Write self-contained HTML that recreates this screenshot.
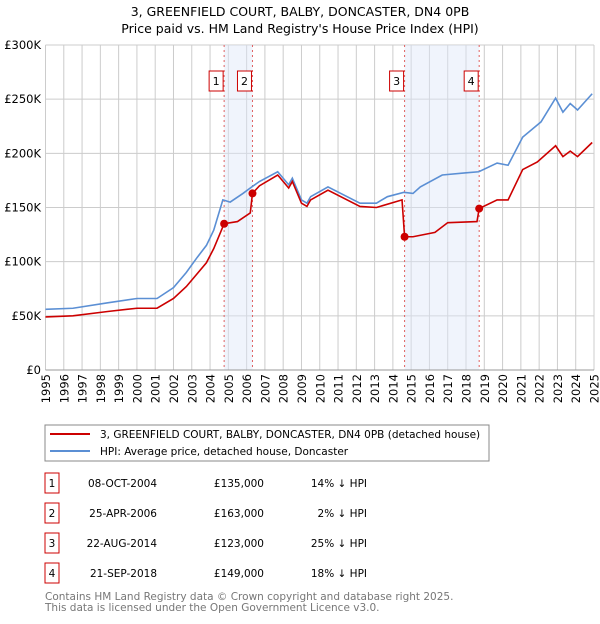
<!DOCTYPE html>
<html><head><meta charset="utf-8"><style>
body{margin:0;background:#fff;font-family:"DejaVu Sans","Liberation Sans",sans-serif;}
svg text{font-family:"DejaVu Sans","Liberation Sans",sans-serif;}
</style></head><body>
<svg id="chart" width="600" height="620" xmlns="http://www.w3.org/2000/svg">
<text x="300" y="16" text-anchor="middle" font-size="12.5">3, GREENFIELD COURT, BALBY, DONCASTER, DN4 0PB</text>
<text x="300" y="33" text-anchor="middle" font-size="12.5">Price paid vs. HM Land Registry's House Price Index (HPI)</text>
<g id="grid"></g>
<g id="bands"></g>
<g id="series"></g>
<g id="axes"></g>
<g>
<rect x="45" y="425" width="444" height="36" fill="#fff" stroke="#888"/>
<line x1="50" y1="434" x2="90" y2="434" stroke="#cc0000" stroke-width="2"/>
<text x="100" y="438" font-size="10.5">3, GREENFIELD COURT, BALBY, DONCASTER, DN4 0PB (detached house)</text>
<line x1="50" y1="451" x2="90" y2="451" stroke="#5b8fd4" stroke-width="2"/>
<text x="100" y="455" font-size="10.5">HPI: Average price, detached house, Doncaster</text>
</g>
<g id="table"></g>
<text x="45" y="600" font-size="10.5" fill="#777">Contains HM Land Registry data © Crown copyright and database right 2025.</text>
<text x="45" y="611" font-size="10.5" fill="#777">This data is licensed under the Open Government Licence v3.0.</text>
</svg>
<script>
const hpiYears=[1995,1996.5,1998.4,2000,2001.1,2002,2002.7,2003.3,2003.8,2004.2,2004.7,2005.1,2005.8,2006.2,2006.7,2007.7,2008.3,2008.5,2009.0,2009.3,2009.5,2010.45,2012.2,2013.1,2013.7,2014.6,2015.1,2015.5,2016.7,2018.0,2018.7,2019.7,2020.3,2021.1,2022.1,2022.9,2023.3,2023.7,2024.1,2024.9];
const hpiValues=[56,57,62,66,66,76,90,104,115,129,157,155,163,168,174,183,171,177,157,154,160,169,154,154,160,164,163,169,180,182,183,191,189,215,229,251,238,246,240,255];
const priceYears=[1995,1996.5,1998.4,2000,2001.1,2002,2002.7,2003.3,2003.8,2004.2,2004.77,2005.5,2006.2,2006.32,2006.7,2007.7,2008.3,2008.5,2009.0,2009.3,2009.5,2010.45,2012.2,2013.1,2014.5,2014.64,2015.1,2016.3,2017.0,2018.6,2018.72,2019.7,2020.3,2021.1,2021.9,2022.9,2023.3,2023.7,2024.1,2024.9];
const priceValues=[49,50,54,57,57,66,77,89,99,112,135,137,145,163,170,180,168,174,154,151,157,166,151,150,157,123,123,127,136,137,149,157,157,185,192,207,197,202,197,210];
const saleLabels=["1","2","3","4"];
const saleYears=[2004.77,2006.32,2014.64,2018.72];
const salePrices=[135,163,123,149];
const saleDates=["08-OCT-2004","25-APR-2006","22-AUG-2014","21-SEP-2018"];
const salePriceText=["£135,000","£163,000","£123,000","£149,000"];
const saleHpiText=["14% ↓ HPI","2% ↓ HPI","25% ↓ HPI","18% ↓ HPI"];
const yTicks=[0,50,100,150,200,250,300];
const yTickLabels=["£0","£50K","£100K","£150K","£200K","£250K","£300K"];
const xTicks=[1995,1996,1997,1998,1999,2000,2001,2002,2003,2004,2005,2006,2007,2008,2009,2010,2011,2012,2013,2014,2015,2016,2017,2018,2019,2020,2021,2022,2023,2024,2025];

const NS="http://www.w3.org/2000/svg";
const X0=45.5,X1=594,Y0=370,Y1=45;
const xs=y=>X0+(y-1995)*(X1-X0)/30;
const ys=v=>Y0-v*(Y0-Y1)/300;
function mk(tag,attrs,parent){const e=document.createElementNS(NS,tag);for(const k in attrs)e.setAttribute(k,attrs[k]);parent.appendChild(e);return e;}
const grid=document.getElementById('grid'),bands=document.getElementById('bands'),series=document.getElementById('series'),axes=document.getElementById('axes'),table=document.getElementById('table');
yTicks.forEach((t,i)=>{
  const l=mk('line',{x1:X0,x2:X1,y1:ys(t),y2:ys(t),stroke:'#cccccc'},grid);
  
  
  const tx=mk('text',{x:41,y:ys(t)+4,'text-anchor':'end','font-size':'11.5'},axes);
  tx.textContent=yTickLabels[i];
  
  
});
xTicks.forEach(t=>{
  const l=mk('line',{x1:xs(t),x2:xs(t),y1:Y1,y2:Y0,stroke:'#cccccc'},grid);
  
  
  const x=xs(t)+4.5;
  const tx=mk('text',{x:x,y:374,'text-anchor':'end','font-size':'11.5',transform:'rotate(-90 '+x+' 374)'},axes);
  tx.textContent=t;
  
  
});
[[0,1],[2,3]].forEach(p=>{
  const r=mk('rect',{x:xs(saleYears[p[0]]),y:Y1,width:xs(saleYears[p[1]])-xs(saleYears[p[0]]),height:Y0-Y1,fill:'#dde6f8','fill-opacity':'0.45'},bands);
  
  
});
saleYears.forEach((y,i)=>{
  const l=mk('line',{x1:xs(y),x2:xs(y),y1:Y1,y2:Y0,stroke:'#e06060','stroke-dasharray':'2,3','stroke-width':1},bands);
  
  
  const b=mk('rect',{x:xs(y)-15,y:71,width:14,height:20,fill:'#fff',stroke:'#cc0000'},bands);
  
  
  const t=mk('text',{x:xs(y)-8,y:85,'text-anchor':'middle','font-size':'11'},bands);
  t.textContent=saleLabels[i];
  
  
});
const hp=mk('polyline',{points:hpiYears.map((y,i)=>xs(y)+','+ys(hpiValues[i])).join(' '),fill:'none',stroke:'#5b8fd4','stroke-width':1.6},series);


const pp=mk('polyline',{points:priceYears.map((y,i)=>xs(y)+','+ys(priceValues[i])).join(' '),fill:'none',stroke:'#cc0000','stroke-width':1.6},series);


saleYears.forEach((y,i)=>{
  const c=mk('circle',{cx:xs(y),cy:ys(salePrices[i]),r:4,fill:'#cc0000'},series);
  
  
});
const ax=mk('line',{x1:X0,x2:X1,y1:Y0,y2:Y0,stroke:'#999'},axes);


saleLabels.forEach((s,i)=>{
  const cy=483+i*30;
  const b=mk('rect',{x:45,y:cy-10,width:14,height:20,fill:'#fff',stroke:'#cc0000'},table);
  
  
  const cells=[[52,'middle',s],[157,'end',saleDates[i]],[264,'end',salePriceText[i]],[367,'end',saleHpiText[i]]];
  cells.forEach(c=>{
    const t=mk('text',{x:c[0],y:cy+4,'text-anchor':c[1],'font-size':'10.5'},table);
    t.textContent=c[2];
    
    
  });
});
</script>
</body></html>
